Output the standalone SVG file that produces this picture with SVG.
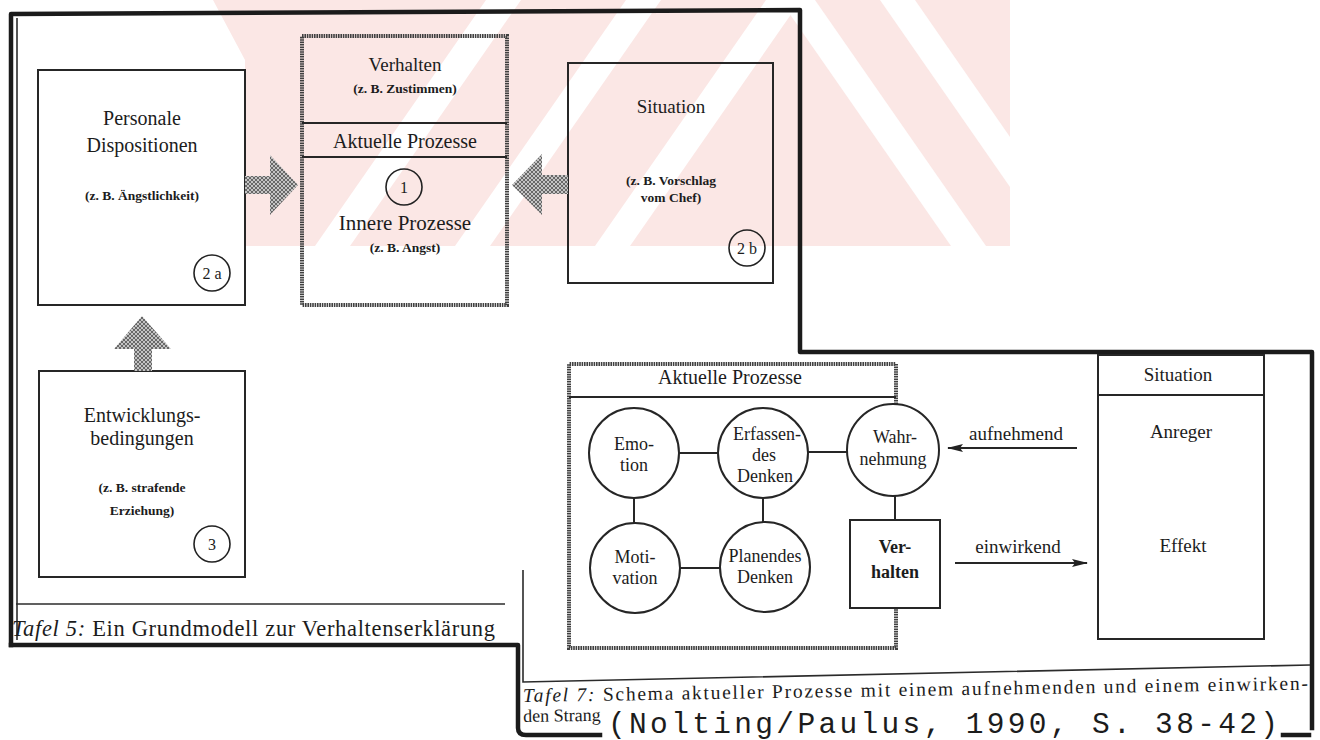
<svg xmlns="http://www.w3.org/2000/svg" width="1320" height="740" viewBox="0 0 1320 740">
  <style>
    .frame{fill:none;stroke:#1b1b1b;stroke-width:4.5;stroke-linecap:square;stroke-linejoin:round}
    .rule{fill:none;stroke:#2b2b2b;stroke-width:1.6}
    .box{fill:none;stroke:#262626;stroke-width:2}
    .hatch{fill:none;stroke:#404040;stroke-width:4;stroke-dasharray:1.6 0.8}
    .link{fill:none;stroke:#262626;stroke-width:2}
    .num{fill:none;stroke:#222;stroke-width:1.6}
    .block{fill:url(#grain)}
    .wm{fill:#fbe7e5}
    .gap{fill:#ffffff}
    text{font-family:"Liberation Serif","Times New Roman",serif;fill:#1c1c1c}
    .c{text-anchor:middle}
    .h20{font-size:20px}
    .s18{font-size:18px}
    .ex{font-size:13.5px;font-weight:bold}
    .n{font-size:16px}
    .b{font-weight:bold}
    .it{font-style:italic}
    .mono{font-family:"Liberation Mono","Courier New",monospace}
  </style>
  <defs>
    <pattern id="grain" width="4" height="4" patternUnits="userSpaceOnUse">
      <rect width="4" height="4" fill="#c4c4c4"/>
      <path d="M0,0 L4,4 M4,0 L0,4" stroke="#5e5e5e" stroke-width="0.9"/>
    </pattern>
    <marker id="tip" markerWidth="16" markerHeight="8" refX="15" refY="4" orient="auto" markerUnits="userSpaceOnUse">
      <path d="M0,0 L16,4 L0,8 L3,4 z" fill="#222"/>
    </marker>
  </defs>

  <rect width="1320" height="740" fill="#ffffff"/>

  <!-- faint striped background mark -->
  <g id="background-mark">
    <polygon class="wm" points="213,0 1010,0 1010,246 245,246 245,60"/>
    <polygon class="gap" points="315,246 350,246 521,0 486,0"/>
    <polygon class="gap" points="455,246 490,246 661,0 626,0"/>
    <polygon class="gap" points="595,246 630,246 801,0 766,0"/>
    <polygon class="gap" points="780,0 815,0 986,246 951,246"/>
    <polygon class="gap" points="880,0 915,0 1010,137 1010,187"/>
  </g>

  <!-- outer frames of both panels -->
  <g id="frames">
    <path class="frame" d="M11,645 V14 L800,10 V352 H1312 V728"/>
    <path class="rule" d="M17,18 V640"/>
    <path class="frame" d="M11,645 H518 V728 Q518,735 526,735 H600"/>
    <path class="frame" d="M1283,735 H1309"/>
    <path class="rule" d="M16,604 H505"/>
    <path class="rule" d="M523,570 V682 L1310,665"/>
  </g>

  <!-- Tafel 5 -->
  <g id="personale-dispositionen">
    <rect class="box" x="38" y="70" width="207" height="235"/>
    <text class="c h20" x="142" y="125">Personale</text>
    <text class="c h20" x="142" y="152">Dispositionen</text>
    <text class="c ex" x="142" y="200">(z. B. Ängstlichkeit)</text>
    <circle class="num" cx="212" cy="273" r="18"/>
    <text class="c n" x="212" y="279">2 a</text>
  </g>

  <g id="aktuelle-prozesse">
    <rect class="hatch" x="302" y="36" width="205" height="269"/>
    <path class="box" d="M302,123 H507 M302,157 H507"/>
    <text class="c" x="405" y="71" font-size="19">Verhalten</text>
    <text class="c ex" x="405" y="93">(z. B. Zustimmen)</text>
    <text class="c h20" x="405" y="148">Aktuelle Prozesse</text>
    <circle class="num" cx="404" cy="187" r="18"/>
    <text class="c n" x="404" y="193">1</text>
    <text class="c" x="405" y="230" font-size="21">Innere Prozesse</text>
    <text class="c ex" x="405" y="252">(z. B. Angst)</text>
  </g>

  <g id="situation">
    <rect class="box" x="568" y="63" width="205" height="220"/>
    <text class="c" x="671" y="113" font-size="19">Situation</text>
    <text class="c ex" x="671" y="185">(z. B. Vorschlag</text>
    <text class="c ex" x="671" y="202">vom Chef)</text>
    <circle class="num" cx="747" cy="248" r="18"/>
    <text class="c n" x="747" y="254">2 b</text>
  </g>

  <g id="entwicklungsbedingungen">
    <rect class="box" x="39" y="371" width="206" height="206"/>
    <text class="c h20" x="142" y="422">Entwicklungs-</text>
    <text class="c h20" x="142" y="445">bedingungen</text>
    <text class="c ex" x="142" y="492">(z. B. strafende</text>
    <text class="c ex" x="142" y="515">Erziehung)</text>
    <circle class="num" cx="212" cy="544" r="18"/>
    <text class="c n" x="212" y="550">3</text>
  </g>

  <g id="caption-tafel-5">
    <text x="12" y="636" font-size="22.5" textLength="483" lengthAdjust="spacing"><tspan class="it">Tafel 5:</tspan> Ein Grundmodell zur Verhaltenserklärung</text>
  </g>

  <!-- Tafel 7 -->
  <g id="aktuelle-prozesse-schema">
    <path class="hatch" d="M896,404 V364 H569 V648 H896 V608"/>
    <path class="box" d="M569,397 H896"/>
    <text class="c h20" x="730" y="384">Aktuelle Prozesse</text>
  </g>

  <g id="emotion">
    <circle class="box" cx="634" cy="453" r="45"/>
    <text class="c s18" x="634" y="450">Emo-</text>
    <text class="c s18" x="634" y="471">tion</text>
  </g>

  <g id="erfassendes-denken">
    <circle class="box" cx="763" cy="453" r="45"/>
    <text class="c s18" x="767" y="440">Erfassen-</text>
    <text class="c s18" x="764" y="461">des</text>
    <text class="c s18" x="765" y="482">Denken</text>
  </g>

  <g id="wahrnehmung">
    <circle class="box" cx="893" cy="450" r="46"/>
    <text class="c s18" x="895" y="443">Wahr-</text>
    <text class="c s18" x="893" y="465">nehmung</text>
  </g>

  <g id="motivation">
    <circle class="box" cx="635" cy="568" r="45"/>
    <text class="c s18" x="635" y="563">Moti-</text>
    <text class="c s18" x="635" y="584">vation</text>
  </g>

  <g id="planendes-denken">
    <circle class="box" cx="765" cy="567" r="45"/>
    <text class="c s18" x="765" y="562">Planendes</text>
    <text class="c s18" x="765" y="583">Denken</text>
  </g>

  <g id="verhalten">
    <rect class="box" x="850" y="520" width="90" height="88"/>
    <text class="c s18 b" x="895" y="553">Ver-</text>
    <text class="c s18 b" x="895" y="578">halten</text>
  </g>

  <g id="situation-schema">
    <rect class="box" x="1098" y="355" width="166" height="284"/>
    <path class="box" d="M1098,395 H1264"/>
    <text class="c" x="1178" y="381" font-size="19">Situation</text>
    <text class="c" x="1181" y="438" font-size="19">Anreger</text>
    <text class="c" x="1183" y="552" font-size="19">Effekt</text>
  </g>

  <g id="caption-tafel-7">
    <g transform="rotate(-0.9 523 702)">
      <text x="523" y="702" font-size="19.5" textLength="785" lengthAdjust="spacing"><tspan class="it">Tafel 7:</tspan> Schema aktueller Prozesse mit einem aufnehmenden und einem einwirken-</text>
      <text x="523" y="722" font-size="18">den Strang</text>
    </g>
    <text class="mono" x="608" y="733" font-size="29.5" textLength="670" lengthAdjust="spacing">(Nolting/Paulus, 1990, S. 38-42)</text>
  </g>

  <!-- connectors -->
  <g id="connectors">
    <polygon class="block" points="245,176 270,176 270,155 298,185 270,215 270,194 245,194"/>
    <polygon class="block" points="568,175 542,175 542,154 512,185 542,215 542,194 568,194"/>
    <polygon class="block" points="134,371 134,349 114,349 142,316 171,349 152,349 152,371"/>

    <path class="link" d="M679,453 H718"/>
    <path class="link" d="M808,452 H847"/>
    <path class="link" d="M634,498 V523"/>
    <path class="link" d="M763,498 V522"/>
    <path class="link" d="M680,568 H720"/>
    <path class="link" d="M895,496 V520"/>

    <line class="link" x1="1077" y1="448" x2="948" y2="448" marker-end="url(#tip)"/>
    <text class="c" x="1016" y="440" font-size="19">aufnehmend</text>
    <line class="link" x1="955" y1="563" x2="1087" y2="563" marker-end="url(#tip)"/>
    <text class="c" x="1018" y="553" font-size="19">einwirkend</text>
  </g>
</svg>
